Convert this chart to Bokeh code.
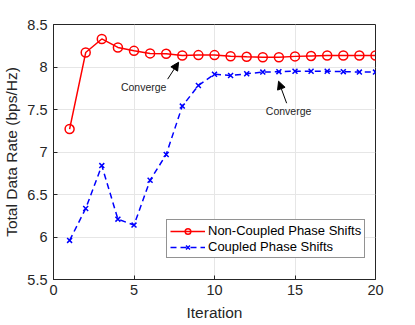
from bokeh.plotting import figure
from bokeh.models import Range1d, Arrow, NormalHead, Label, FixedTicker, Legend, LegendItem
from bokeh.embed import file_html
from bokeh.resources import INLINE

iterations = list(range(1, 21))
non_coupled = [7.27, 8.17, 8.33, 8.23, 8.19, 8.16, 8.155, 8.135, 8.14, 8.14,
               8.127, 8.12, 8.115, 8.115, 8.125, 8.13, 8.135, 8.135, 8.135, 8.135]
coupled = [5.96, 6.335, 6.84, 6.21, 6.14, 6.668, 6.97, 7.54, 7.782, 7.915,
           7.90, 7.92, 7.94, 7.945, 7.95, 7.95, 7.95, 7.945, 7.94, 7.94]
x_ticks = [0, 5, 10, 15, 20]
y_ticks = [5.5, 6, 6.5, 7, 7.5, 8, 8.5]

FONT = "Liberation Sans"
AX = "#262626"

p = figure(frame_width=322, frame_height=255, output_backend="svg", toolbar_location=None,
           x_range=Range1d(0, 20), y_range=Range1d(5.5, 8.5),
           min_border_left=50, min_border_right=27, min_border_top=24, min_border_bottom=38)

p.outline_line_color = AX
p.outline_line_width = 1
p.background_fill_color = "white"

for ax in (p.xaxis[0], p.yaxis[0]):
    ax.major_label_text_font = FONT
    ax.major_label_text_font_size = "14.5px"
    ax.major_label_text_color = AX
    ax.axis_label_text_font = FONT
    ax.axis_label_text_font_size = "15.5px"
    ax.axis_label_text_font_style = "normal"
    ax.axis_label_text_color = AX
    ax.axis_line_color = AX
    ax.major_tick_line_color = AX
    ax.major_tick_in = 4
    ax.major_tick_out = 0
    ax.minor_tick_line_color = None
p.xaxis.ticker = FixedTicker(ticks=x_ticks)
p.yaxis.ticker = FixedTicker(ticks=y_ticks)
p.xaxis.axis_label = "Iteration"
p.yaxis.axis_label = "Total Data Rate (bps/Hz)"
p.xaxis.axis_label_standoff = 6
p.yaxis.axis_label_standoff = 4
p.yaxis.major_label_standoff = 6
p.xaxis.major_label_standoff = 5

p.grid.grid_line_color = "#e6e6e6"
p.grid.grid_line_width = 1

l1 = p.line(iterations, non_coupled, line_color="red", line_width=1.5)
s1 = p.scatter(iterations, non_coupled, marker="circle", size=9, line_color="red",
               fill_color=None, line_width=1.5)
l2 = p.line(iterations, coupled, line_color="blue", line_width=1.5, line_dash="6 4")
s2 = p.scatter(iterations, coupled, marker="x", size=7, line_color="blue", line_width=1.5)

legend = Legend(items=[LegendItem(label="Non-Coupled Phase Shifts", renderers=[l1, s1]),
                       LegendItem(label="Coupled Phase Shifts", renderers=[l2, s2])],
                location=(113, 21), label_text_font=FONT, label_text_font_size="13px",
                label_text_color="black", border_line_color=AX, border_line_width=1,
                padding=3, spacing=1, margin=0, glyph_width=35, glyph_height=14,
                label_height=14, label_standoff=3)
legend.background_fill_alpha = 1.0
p.add_layout(legend)

p.add_layout(Arrow(end=NormalHead(size=8, fill_color="black", line_color="black"),
                   x_start=7.09, y_start=7.857, x_end=7.77, y_end=8.056,
                   line_color="black", line_width=1))
p.add_layout(Label(x=5.6, y=7.77, text="Converge", text_font=FONT, text_font_size="10.5px",
                   text_align="center", text_baseline="middle", text_color=AX))
p.add_layout(Arrow(end=NormalHead(size=8, fill_color="black", line_color="black"),
                   x_start=14.48, y_start=7.574, x_end=13.98, y_end=7.833,
                   line_color="black", line_width=1))
p.add_layout(Label(x=14.6, y=7.48, text="Converge", text_font=FONT, text_font_size="10.5px",
                   text_align="center", text_baseline="middle", text_color=AX))

open("out.html", "w").write(file_html(p, INLINE))
